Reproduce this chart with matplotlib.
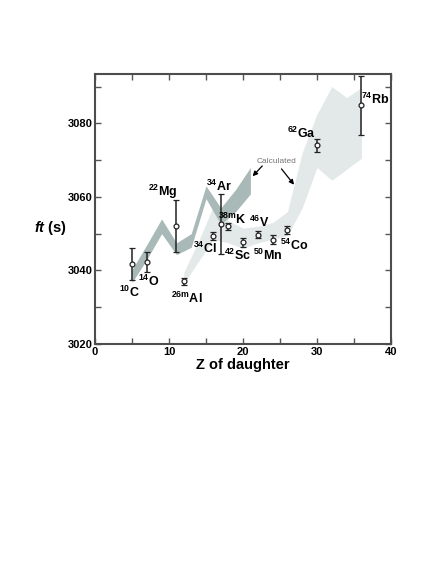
import numpy as np
import matplotlib
matplotlib.use('Agg')
import matplotlib.pyplot as plt

plt.rcParams['font.family'] = ['Liberation Sans', 'DejaVu Sans']
plt.rcParams['mathtext.fontset'] = 'custom'
plt.rcParams['mathtext.rm'] = 'Liberation Sans'
plt.rcParams['mathtext.it'] = 'Liberation Sans:italic:bold'
plt.rcParams['mathtext.bf'] = 'Liberation Sans:bold'

# measured ft values
nuclei = ['10', '14', '22', '26m', '34', '34', '38m', '42', '46', '50', '54', '62', '74']
symbols = ['C', 'O', 'Mg', 'Al', 'Cl', 'Ar', 'K', 'Sc', 'V', 'Mn', 'Co', 'Ga', 'Rb']
z_daughter = [5, 7, 11, 12, 16, 17, 18, 20, 22, 24, 26, 30, 36]
ft = [3041.8, 3042.3, 3052.1, 3037.0, 3049.3, 3052.7, 3052.0, 3047.6, 3049.7, 3048.3, 3050.9, 3074.0, 3084.9]
ft_err = [4.4, 2.7, 7.0, 0.9, 1.1, 8.2, 1.0, 1.2, 0.9, 1.2, 1.1, 1.7, 8.0]

# label positions (x, y) in data units
label_x = [4.7, 7.3, 9.1, 12.4, 14.9, 16.7, 18.6, 19.2, 22.2, 23.4, 26.9, 27.9, 37.8]
label_y = [3033.9, 3036.9, 3061.4, 3032.5, 3045.9, 3062.8, 3053.8, 3044.0, 3053.0, 3044.0, 3046.7, 3077.2, 3086.5]

# calculated bands (T_z = -1 and T_z = 0)
band1_z = [5, 7, 9, 11, 13, 15, 17, 19, 21]
band1_lo = [3036.7, 3043.0, 3050.0, 3044.3, 3046.3, 3059.5, 3052.5, 3056.0, 3060.8]
band1_hi = [3040.2, 3047.0, 3054.0, 3047.5, 3050.0, 3063.0, 3057.0, 3062.0, 3068.0]

band2_z = [12, 14, 16, 18, 20, 22, 24, 26, 28, 30, 32, 34, 36]
band2_lo = [3036.5, 3042.5, 3048.5, 3047.5, 3046.0, 3047.5, 3048.5, 3049.5, 3057.0, 3068.0, 3064.5, 3067.5, 3070.5]
band2_hi = [3039.5, 3048.0, 3057.5, 3053.5, 3051.5, 3052.0, 3053.0, 3056.0, 3072.0, 3082.5, 3090.0, 3087.0, 3089.7]

fig = plt.figure(figsize=(4.36, 5.64), dpi=100)
ax = fig.add_axes([0.2179, 0.3901, 0.6789, 0.4787])

ax.fill_between(band2_z, band2_lo, band2_hi, color='#e3e9e8', lw=0, zorder=1)
ax.fill_between(band1_z, band1_lo, band1_hi, color='#a9b9b7', lw=0, zorder=2)

ax.errorbar(z_daughter, ft, yerr=ft_err, fmt='o', ms=3.5, mfc='white', mec='#222222',
            mew=0.9, ecolor='#222222', elinewidth=1.1, capsize=2.5, capthick=1.1, zorder=3)

for i in range(len(symbols)):
    ax.text(label_x[i], label_y[i], r'$^{\mathregular{%s}}$%s' % (nuclei[i], symbols[i]),
            fontsize=9, fontweight='bold', ha='center', va='center', zorder=4)

ax.text(24.5, 3069.5, 'Calculated', fontsize=6, color='#777777', ha='center', va='center')
ax.annotate('', xy=(21.3, 3065.6), xytext=(22.6, 3068.4),
            arrowprops=dict(arrowstyle='-|>', color='black', lw=0.9, mutation_scale=7,
                            shrinkA=0, shrinkB=0))
ax.annotate('', xy=(26.9, 3063.3), xytext=(25.2, 3067.6),
            arrowprops=dict(arrowstyle='-|>', color='black', lw=0.9, mutation_scale=7,
                            shrinkA=0, shrinkB=0))

ax.set_xlim(0, 40)
ax.set_ylim(3020, 3093.4)
ax.set_xticks([0, 10, 20, 30, 40])
ax.set_xticks([5, 15, 25, 35], minor=True)
ax.set_yticks([3020, 3040, 3060, 3080])
ax.set_yticks([3030, 3050, 3070, 3090], minor=True)
ax.tick_params(which='both', direction='in', top=True, right=True, length=4,
               width=1.0, color='#555555', labelsize=8, pad=2)
for lab in ax.get_xticklabels() + ax.get_yticklabels():
    lab.set_fontweight('bold')
for s in ax.spines.values():
    s.set_linewidth(1.5)
    s.set_color('#4d4d4d')

ax.set_xlabel('Z of daughter', fontsize=10.5, fontweight='bold', labelpad=1)
fig.text(0.115, 0.596, r'$\mathit{ft}$ (s)', fontsize=10.5, fontweight='bold',
         ha='center', va='center')

plt.savefig('out.png', dpi=100)
